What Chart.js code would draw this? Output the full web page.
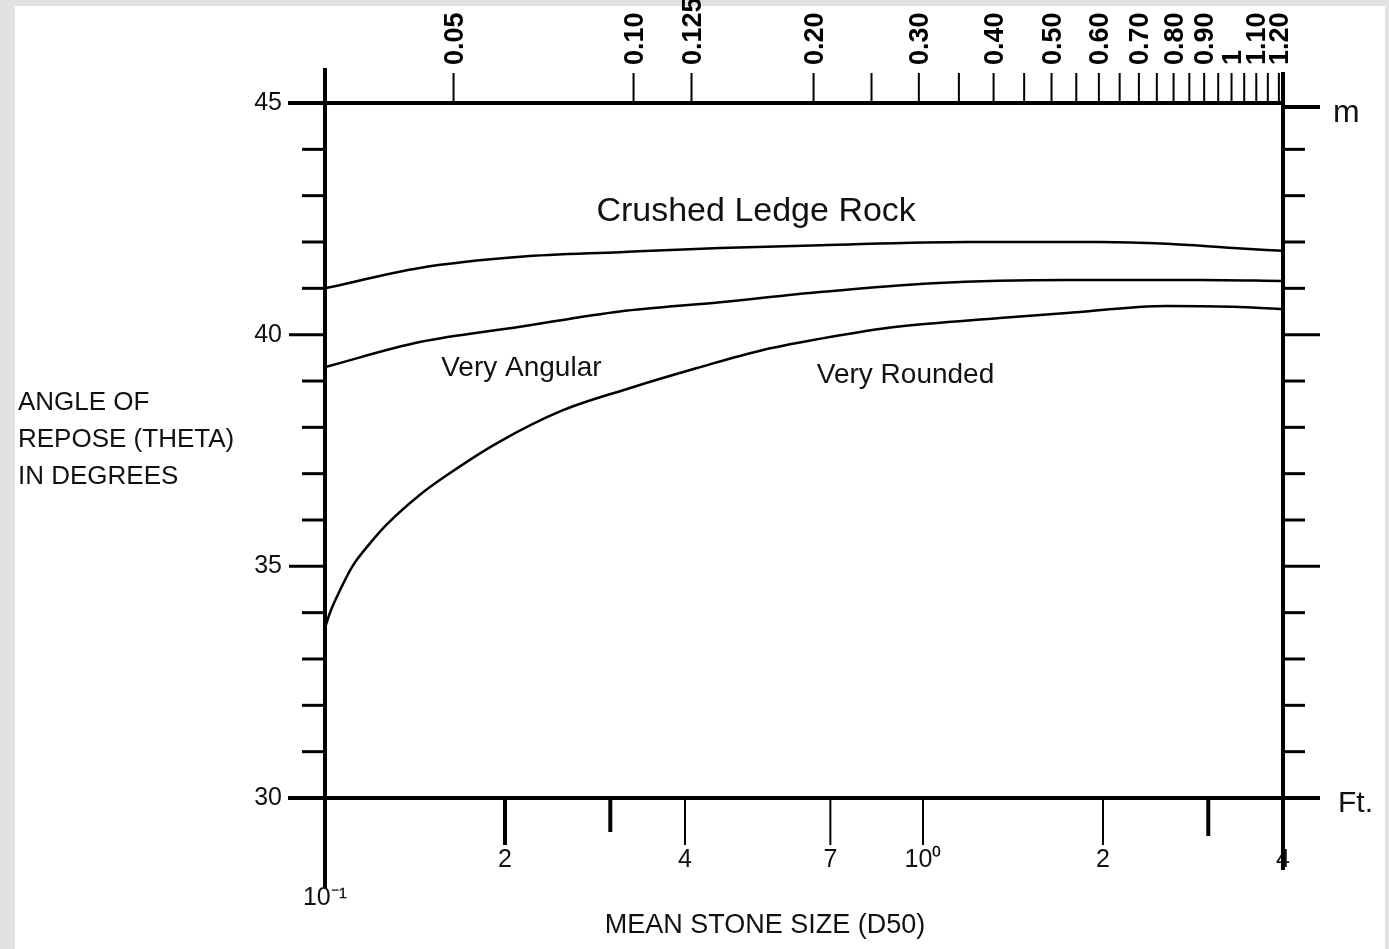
<!DOCTYPE html>
<html>
<head>
<meta charset="utf-8">
<script src="https://cdn.jsdelivr.net/npm/chart.js@4.4.1/dist/chart.umd.min.js"></script>
<style>
  html, body { margin: 0; padding: 0; background: #fff; }
</style>
</head>
<body>
<canvas id="chart" width="1389" height="949"></canvas>
<script>
// bottom axis: mean stone size in feet (log)
const ftTicks = [0.1, 0.2, 0.3, 0.4, 0.7, 1, 2, 3, 4];
const ftLabels = [['', '10⁻¹'], '2', '', '4', '7', '10⁰', '2', '', '4'];
// top axis: same size in metres
const mTicks = [0.05, 0.10, 0.125, 0.20, 0.25, 0.30, 0.35, 0.40, 0.45, 0.50, 0.55, 0.60, 0.65, 0.70, 0.75, 0.80, 0.85, 0.90, 0.95, 1, 1.05, 1.10, 1.15, 1.20];
const mLabels = ['0.05', '0.10', '0.125', '0.20', '', '0.30', '', '0.40', '', '0.50', '', '0.60', '', '0.70', '', '0.80', '', '0.90', '', '1', '', '1.10', '', '1.20'];
// side axes: angle of repose in degrees
const degTicks = [30, 31, 32, 33, 34, 35, 36, 37, 38, 39, 40, 41, 42, 43, 44, 45];
const degLabels = ['30', '', '', '', '', '35', '', '', '', '', '40', '', '', '', '', '45'];

// curves
const crushedFt = [0.1, 0.144, 0.212, 0.311, 0.458, 0.673, 1.19, 1.98, 2.56, 3.30, 4.0];
const crushedDeg = [41.0, 41.44, 41.68, 41.78, 41.87, 41.93, 42.0, 42.0, 41.96, 41.87, 41.81];
const angularFt = [0.1, 0.144, 0.212, 0.311, 0.458, 0.673, 1.04, 1.74, 2.91, 4.0];
const angularDeg = [39.30, 39.84, 40.17, 40.50, 40.70, 40.92, 41.11, 41.18, 41.18, 41.16];
const roundedFt = [0.1, 0.102, 0.106, 0.111, 0.119, 0.127, 0.144, 0.160, 0.194, 0.250, 0.324, 0.419, 0.540, 0.699, 0.905, 1.345, 1.74, 2.56, 3.30, 4.0];
const roundedDeg = [33.67, 34.01, 34.49, 34.99, 35.50, 35.91, 36.54, 36.97, 37.66, 38.37, 38.85, 39.28, 39.67, 39.95, 40.17, 40.36, 40.47, 40.62, 40.60, 40.55];

// curve names written on the plot
const notes = ['Crushed Ledge Rock', 'Very Angular', 'Very Rounded'];
const noteFt = [0.526, 0.213, 0.935];
const noteDeg = [42.66, 39.28, 39.13];
const noteSize = [34, 28, 28];

const FT_TO_M = 0.3048;
const FONT = '"Liberation Sans", Arial, sans-serif';

const toPoints = (xs, ys) => xs.map((x, i) => ({ x: x, y: ys[i] }));

const fixedTicks = vals => scale => { scale.ticks = vals.map(v => ({ value: v })); };

const frame = {
  id: 'frame',
  beforeDraw(chart) {
    const ctx = chart.ctx;
    ctx.save();
    ctx.fillStyle = '#e2e2e2';
    ctx.fillRect(0, 0, chart.width, chart.height);
    ctx.fillStyle = '#fff';
    ctx.fillRect(15, 6, 1370, chart.height - 6);
    ctx.restore();
  },
  afterDraw(chart) {
    const { ctx, chartArea: a } = chart;
    const { x, xTop, y, y2 } = chart.scales;
    const seg = (x1, y1, x2, y2_, w) => {
      ctx.lineWidth = w;
      ctx.beginPath();
      ctx.moveTo(x1, y1);
      ctx.lineTo(x2, y2_);
      ctx.stroke();
    };
    ctx.save();
    ctx.strokeStyle = '#000';
    ctx.lineCap = 'butt';

    // axis lines
    seg(a.left, a.top - 35, a.left, a.bottom + 90, 4);
    seg(a.right, a.top - 31, a.right, a.bottom + 72, 4);
    seg(a.left - 37, a.top, a.right, a.top, 4);
    seg(a.left - 37, a.bottom, a.right + 37, a.bottom, 4);

    degTicks.forEach(d => {
      const py = y.getPixelForValue(d);
      const major = d % 5 === 0;
      seg(a.left - (major ? 36 : 23), py, a.left, py, 3);
    });
    degTicks.forEach(d => {
      const py = y2.getPixelForValue(d) + (d === 45 ? 4 : 0);
      const major = d % 5 === 0;
      seg(a.right, py, a.right + (major ? 37 : 22), py, (d === 45 || d === 30) ? 4 : 3);
    });
    ftTicks.forEach(v => {
      if (v === ftTicks[0] || v === ftTicks[ftTicks.length - 1]) return;
      const px = x.getPixelForValue(v);
      const heavy = v === 0.2 || v === 0.3 || v === 3;
      const len = v === 0.3 ? 34 : v === 3 ? 38 : 47;
      seg(px, a.bottom, px, a.bottom + len, heavy ? 4 : 2);
    });
    mTicks.forEach(v => {
      const px = xTop.getPixelForValue(v);
      seg(px, a.top, px, a.top - 30, 2);
    });

    // text
    ctx.fillStyle = '#111';
    ctx.textAlign = 'left';
    ctx.textBaseline = 'alphabetic';
    ctx.font = '26px ' + FONT;
    ctx.fillText('ANGLE OF', 18, 410);
    ctx.fillText('REPOSE (THETA)', 18, 447);
    ctx.fillText('IN DEGREES', 18, 484);
    ctx.font = '32px ' + FONT;
    ctx.fillText('m', 1333, 122);
    ctx.font = '30px ' + FONT;
    ctx.fillText('Ft.', 1338, 812);
    ctx.textAlign = 'center';
    ctx.font = '27px ' + FONT;
    ctx.fillText('MEAN STONE SIZE (D50)', 765, 933);

    ctx.textBaseline = 'middle';
    notes.forEach((t, i) => {
      ctx.font = noteSize[i] + 'px ' + FONT;
      ctx.fillText(t, x.getPixelForValue(noteFt[i]), y.getPixelForValue(noteDeg[i]));
    });
    ctx.restore();
  }
};

const lineStyle = {
  borderColor: '#000',
  borderWidth: 2.5,
  pointRadius: 0,
  fill: false,
  cubicInterpolationMode: 'monotone'
};

new Chart(document.getElementById('chart').getContext('2d'), {
  type: 'line',
  data: {
    datasets: [
      { label: 'Crushed Ledge Rock', data: toPoints(crushedFt, crushedDeg), ...lineStyle },
      { label: 'Very Angular', data: toPoints(angularFt, angularDeg), ...lineStyle },
      { label: 'Very Rounded', data: toPoints(roundedFt, roundedDeg), ...lineStyle }
    ]
  },
  options: {
    responsive: false,
    animation: false,
    devicePixelRatio: 1,
    layout: { padding: 0 },
    plugins: { legend: { display: false }, tooltip: { enabled: false } },
    scales: {
      x: {
        type: 'logarithmic',
        position: 'bottom',
        min: ftTicks[0],
        max: ftTicks[ftTicks.length - 1],
        bounds: 'data',
        afterBuildTicks: fixedTicks(ftTicks),
        afterFit: s => { s.height = 151; },
        grid: { display: false, drawTicks: false },
        border: { display: false },
        ticks: {
          autoSkip: false, minRotation: 0, maxRotation: 0, padding: 43,
          color: '#111', font: { family: FONT, size: 25, lineHeight: 1.52 },
          callback: (v, i) => ftLabels[i]
        }
      },
      xTop: {
        type: 'logarithmic',
        position: 'top',
        min: ftTicks[0] * FT_TO_M,
        max: ftTicks[ftTicks.length - 1] * FT_TO_M,
        bounds: 'data',
        afterBuildTicks: fixedTicks(mTicks),
        afterFit: s => { s.height = 103; },
        grid: { display: false, drawTicks: false },
        border: { display: false },
        ticks: {
          autoSkip: false, minRotation: 90, maxRotation: 90, padding: 38, labelOffset: 34,
          color: '#000', font: { family: FONT, size: 27, weight: 'bold' },
          callback: (v, i) => mLabels[i]
        }
      },
      y: {
        type: 'linear',
        position: 'left',
        min: 30,
        max: 45,
        afterBuildTicks: fixedTicks(degTicks),
        afterFit: s => { s.width = 325; },
        grid: { display: false, drawTicks: false },
        border: { display: false },
        ticks: {
          autoSkip: false, padding: 43,
          color: '#111', font: { family: FONT, size: 25 },
          callback: (v, i) => degLabels[i]
        }
      },
      y2: {
        type: 'linear',
        position: 'right',
        min: 30,
        max: 45,
        afterBuildTicks: fixedTicks(degTicks),
        afterFit: s => { s.width = 106; },
        grid: { display: false, drawTicks: false },
        border: { display: false },
        ticks: { display: false }
      }
    }
  },
  plugins: [frame]
});
</script>
</body>
</html>
